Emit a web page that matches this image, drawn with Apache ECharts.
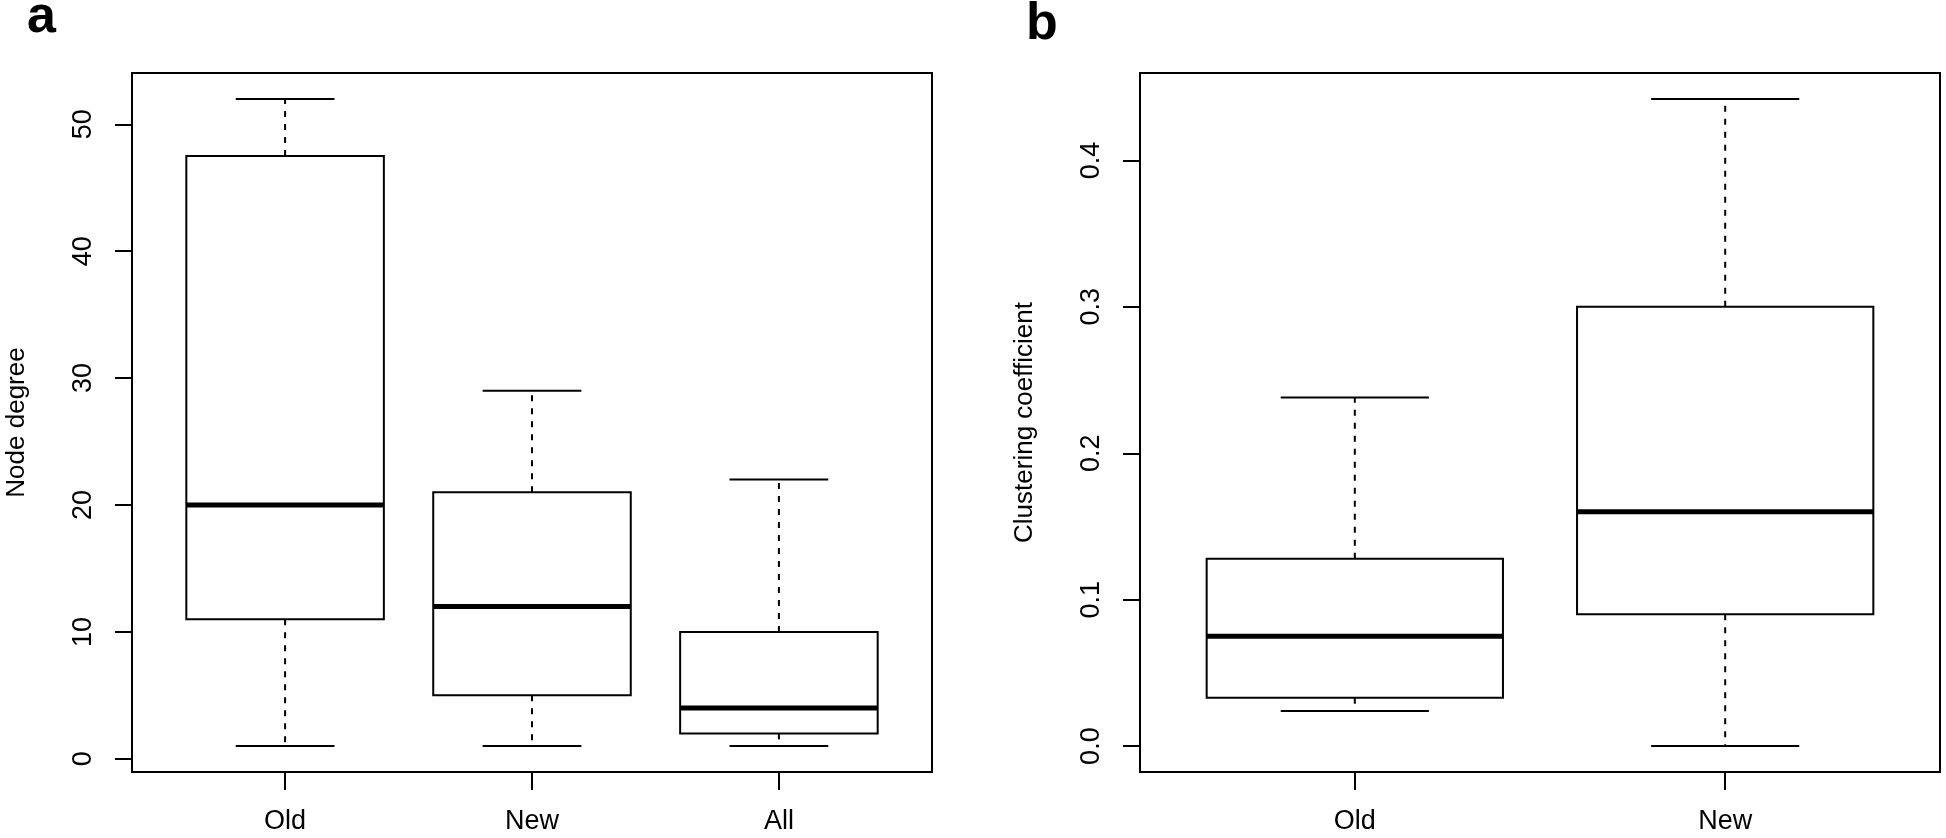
<!DOCTYPE html>
<html><head><meta charset="utf-8">
<script src="https://cdn.jsdelivr.net/npm/echarts@6/dist/echarts.min.js"></script>
<style>html,body{margin:0;padding:0;background:#fff}#c{width:1946px;height:838px}</style>
</head><body><div id="c"></div>
<script>
// Panel a: node degree
const catsA = ['Old', 'New', 'All'];
const lowA  = [1, 1, 1];
const q1A   = [11, 5, 2];
const medA  = [20, 12, 4];
const q3A   = [47.5, 21, 10];
const highA = [52, 29, 22];
const ticksA = [0, 10, 20, 30, 40, 50];

// Panel b: clustering coefficient
const catsB = ['Old', 'New'];
const lowB  = [0.024, 0];
const q1B   = [0.033, 0.09];
const medB  = [0.075, 0.16];
const q3B   = [0.128, 0.30];
const highB = [0.238, 0.442];
const ticksB = [0, 0.1, 0.2, 0.3, 0.4];

const FONT = 'Liberation Sans, Arial, Helvetica, sans-serif';
const FS = 27;

function ext(lo, hi) { const d = (hi - lo) * 0.04; return [lo - d, hi + d]; }
function rows(low, q1, med, q3, high) {
  return low.map((v, i) => [i + 1, low[i], q1[i], med[i], q3[i], high[i]]);
}
function renderBox(params, api) {
  const x = api.value(0);
  const pLow = api.coord([x, api.value(1)]);
  const pQ1 = api.coord([x, api.value(2)]);
  const pMed = api.coord([x, api.value(3)]);
  const pQ3 = api.coord([x, api.value(4)]);
  const pHigh = api.coord([x, api.value(5)]);
  const bw = api.size([0.8, 0])[0];
  const cw = api.size([0.4, 0])[0];
  const cx = pMed[0];
  const dash = { stroke: '#000', lineWidth: 2, lineDash: [6, 7] };
  const solid = { stroke: '#000', lineWidth: 2 };
  return {
    type: 'group',
    children: [
      { type: 'line', shape: { x1: cx, y1: pQ3[1], x2: cx, y2: pHigh[1] }, style: dash },
      { type: 'line', shape: { x1: cx, y1: pQ1[1], x2: cx, y2: pLow[1] }, style: dash },
      { type: 'line', shape: { x1: cx - cw / 2, y1: pHigh[1], x2: cx + cw / 2, y2: pHigh[1] }, style: solid },
      { type: 'line', shape: { x1: cx - cw / 2, y1: pLow[1], x2: cx + cw / 2, y2: pLow[1] }, style: solid },
      { type: 'rect', shape: { x: cx - bw / 2, y: pQ3[1], width: bw, height: pQ1[1] - pQ3[1] },
        style: { fill: '#fff', stroke: '#000', lineWidth: 2 } },
      { type: 'line', shape: { x1: cx - bw / 2, y1: pMed[1], x2: cx + bw / 2, y2: pMed[1] },
        style: { stroke: '#000', lineWidth: 5 } }
    ]
  };
}

const yA = ext(Math.min(...lowA), Math.max(...highA));
const yB = ext(Math.min(...lowB), Math.max(...highB));
const xA = ext(0.5, catsA.length + 0.5);
const xB = ext(0.5, catsB.length + 0.5);

function xAxisCfg(idx, cats, range) {
  const vals = cats.map((c, i) => i + 1);
  return {
    type: 'value', gridIndex: idx, min: range[0], max: range[1], position: 'bottom',
    axisLine: { show: false, onZero: false }, splitLine: { show: false },
    axisTick: { show: true, inside: false, customValues: vals, length: 18, lineStyle: { color: '#000', width: 2 } },
    axisLabel: { show: true, customValues: vals, margin: 36, color: '#000', fontSize: FS, fontFamily: FONT,
      formatter: v => cats[Math.round(v) - 1] || '' }
  };
}
function yAxisCfg(idx, ticks, range, name, fmt) {
  return {
    type: 'value', gridIndex: idx, min: range[0], max: range[1], position: 'left',
    name: name, nameLocation: 'middle', nameGap: 102,
    nameTextStyle: { color: '#000', fontSize: 26, fontFamily: FONT },
    axisLine: { show: false, onZero: false }, splitLine: { show: false },
    axisTick: { show: true, inside: false, customValues: ticks, length: 17, lineStyle: { color: '#000', width: 2 } },
    axisLabel: { show: true, customValues: ticks, rotate: 90, margin: 35, color: '#000', fontSize: FS, fontFamily: FONT,
      formatter: fmt }
  };
}

const chart = echarts.init(document.getElementById('c'));
chart.setOption({
  animation: false,
  backgroundColor: '#fff',
  grid: [
    { left: 132, top: 73, width: 800, height: 699, show: true, borderColor: '#000', borderWidth: 2, backgroundColor: 'transparent' },
    { left: 1140, top: 73, width: 800, height: 699, show: true, borderColor: '#000', borderWidth: 2, backgroundColor: 'transparent' }
  ],
  xAxis: [xAxisCfg(0, catsA, xA), xAxisCfg(1, catsB, xB)],
  yAxis: [
    yAxisCfg(0, ticksA, yA, 'Node degree', v => String(Math.round(v))),
    yAxisCfg(1, ticksB, yB, 'Clustering coefficient', v => v.toFixed(1))
  ],
  graphic: [
    { type: 'text', left: 27, top: -8, style: { text: 'a', font: 'bold 52px ' + FONT, fill: '#000' } },
    { type: 'text', left: 1026, top: -1, style: { text: 'b', font: 'bold 52px ' + FONT, fill: '#000' } }
  ],
  series: [
    { type: 'custom', xAxisIndex: 0, yAxisIndex: 0, renderItem: renderBox, data: rows(lowA, q1A, medA, q3A, highA), clip: false },
    { type: 'custom', xAxisIndex: 1, yAxisIndex: 1, renderItem: renderBox, data: rows(lowB, q1B, medB, q3B, highB), clip: false }
  ]
});
</script></body></html>
